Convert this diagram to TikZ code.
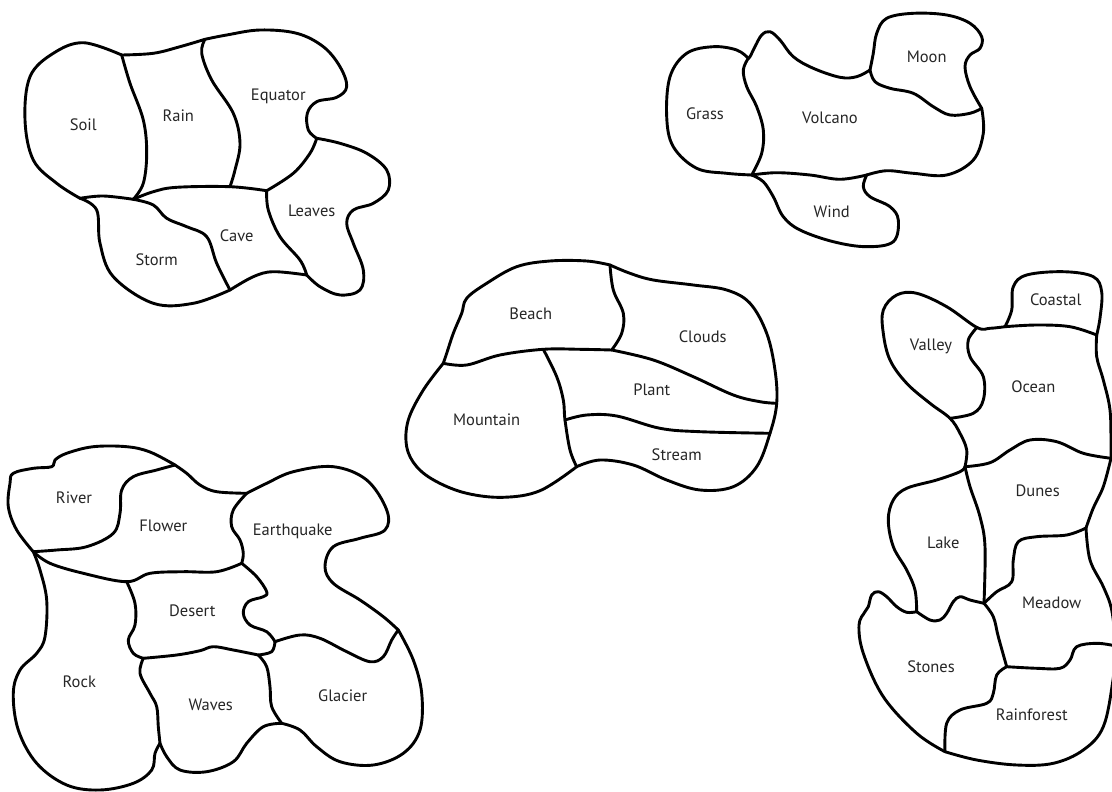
\documentclass[tikz,border=0pt]{standalone}
\usepackage{fontspec}
\setmainfont{PT Sans}
\begin{document}
\begin{tikzpicture}[x=1pt,y=-1pt,
  edge/.style={line width=2.9pt, line join=round, line cap=round},
  lbl/.style={font=\fontsize{16.5}{19}\selectfont, text=black!85, inner sep=0pt}]
\useasboundingbox (0,0) rectangle (1112,792);
\clip (0,0) rectangle (1112,792);
\fill[white] (0,0) rectangle (1112,792);
\newcommand{\crv}[1]{\draw[edge] plot[smooth, tension=0.6] coordinates {#1};}
% ---------------- cluster 1 ----------------
\coordinate (A1) at (121.7,55);
\coordinate (B1) at (205,39.3);
\coordinate (C1) at (316.7,138.3);
\coordinate (D1) at (306.7,275);
\coordinate (E1) at (230,290);
\coordinate (F1) at (80,198.3);
\coordinate (G1) at (133.3,199.3);
\coordinate (H1) at (230,186.7);
\coordinate (I1) at (266.7,190.7);
\crv{(A1) (83.3,42.7) (53.3,53.3) (30,76.7) (25,120) (33.3,160) (56.7,183.3) (F1)}
\crv{(F1) (96.7,210) (100,243.3) (113.3,276.7) (153.3,303.3) (193.3,303.3) (E1)}
\crv{(E1) (253.3,276.7) (273.3,271.7) (D1)}
\crv{(D1) (320,286.7) (340,295) (360,290) (363.3,270) (353.3,243.3) (346.7,223.3) (353.3,210) (373.3,203.3) (388.3,190) (386.7,170) (366.7,153.3) (340,143.3) (C1)}
\crv{(C1) (308.3,130) (307.3,113.3) (316.7,101.7) (336.7,97.3) (346.7,86.7) (340,66.7) (323.3,46.7) (296.7,33.3) (260,30) (226.7,35) (B1)}
\crv{(B1) (180,46.7) (153.3,53.3) (A1)}
\crv{(A1) (130,83.3) (143.3,120) (146.7,153.3) (143.3,183.3) (G1)}
\crv{(F1) (103.3,196) (G1)}
\crv{(G1) (153.3,191.7) (176.7,187.3) (H1) (I1)}
\crv{(B1) (201.7,53.3) (211.7,80) (233.3,113.3) (240,143.3) (235,170) (H1)}
\crv{(C1) (310,153.3) (293.3,173.3) (I1)}
\crv{(I1) (268.3,210) (280,236.7) (300,260) (D1)}
\crv{(G1) (153.3,205) (166.7,218.3) (186.7,226.7) (206.7,236.7) (216.7,263.3) (E1)}
\node[lbl] (soil) at (83.3,125) {Soil};
\node[lbl] (rain) at (178.3,116) {Rain};
\node[lbl] (equator) at (278.3,96.7) {Equator};
\node[lbl] (leaves) at (311.7,211) {Leaves};
\node[lbl] (cave) at (236.7,235.3) {Cave};
\node[lbl] (storm) at (156.7,259.3) {Storm};
% ---------------- cluster 2 ----------------
\coordinate (A2) at (748.3,58.3);
\coordinate (B2) at (751.7,175);
\coordinate (C2) at (866.7,175);
\coordinate (D2) at (981.7,108.3);
\coordinate (E2) at (870,70);
\crv{(A2) (736.7,50) (713.3,46.7) (686.7,53.3) (670,76.7) (666.7,116.7) (673.3,146.7) (696.7,168.3) (726.7,173.3) (B2)}
\crv{(B2) (763.3,181.7) (773.3,196.7) (783.3,216.7) (800,230) (833.3,241.7) (866.7,246.7) (893.3,241.7) (898.3,220) (890,206.7) (870,196.7) (863.3,186.7) (C2)}
\crv{(C2) (886.7,170.7) (913.3,173.3) (946.7,175) (973.3,160) (983.3,133.3) (D2)}
\crv{(D2) (970,86.7) (965,66.7) (970,55) (980,48.3) (981.7,36.7) (970,23.3) (946.7,15) (913.3,13.3) (886.7,18.3) (876.7,33.3) (873.3,53.3) (E2)}
\crv{(E2) (856.7,76.7) (840,77.3) (813.3,68.3) (793.3,56.7) (780,40) (770,31.7) (761.7,35) (755,46.7) (750,56.7) (A2)}
\crv{(A2) (743.3,70) (746.7,86.7) (756.7,106.7) (763.3,130) (761.7,153.3) (B2)}
\crv{(B2) (776.7,172.7) (810,175) (840,179.3) (C2)}
\crv{(E2) (875,81.7) (890,88.3) (913.3,93.3) (933.3,106.7) (950,115) (970,113.3) (D2)}
\node[lbl] (grass) at (705,113.3) {Grass};
\node[lbl] (volcano) at (830,118.3) {Volcano};
\node[lbl] (moon) at (926.7,56.7) {Moon};
\node[lbl] (wind) at (831.7,211.7) {Wind};
% ---------------- cluster 3 ----------------
\coordinate (A3) at (610,265);
\coordinate (B3) at (443.3,363.3);
\coordinate (C3) at (576.7,466.7);
\coordinate (D3) at (770,433.3);
\coordinate (E3) at (776.7,403.3);
\coordinate (F3) at (611.7,350);
\coordinate (G3) at (543.3,349.3);
\coordinate (H3) at (565,420);
\crv{(A3) (586.7,261) (550,261) (516.7,266.7) (486.7,283.3) (466.7,298.3) (461.7,313.3) (453.3,333.3) (446.7,353.3) (B3)}
\crv{(B3) (423.3,390) (408.3,420) (406.7,446.7) (416.7,466.7) (436.7,481.7) (466.7,493.3) (503.3,497.3) (540,490.7) (C3)}
\crv{(C3) (600,460) (633.3,465) (666.7,480) (700,490) (733.3,486.7) (756.7,466.7) (D3) (E3) (775,370) (766.7,333.3) (750,303.3) (726.7,290) (693.3,285) (653.3,280) (630,273.3) (A3)}
\crv{(A3) (613.3,290) (623.3,313.3) (621.7,333.3) (F3)}
\crv{(B3) (466.7,365) (500,355) (G3) (580,349.3) (F3)}
\crv{(F3) (653.3,360) (693.3,376.7) (733.3,395) (760,401.7) (E3)}
\crv{(G3) (556.7,376.7) (563.3,400) (H3) (570,450) (C3)}
\crv{(H3) (586.7,415) (616.7,416) (660,428.3) (700,431.7) (D3)}
\node[lbl] (beach) at (530.7,313.3) {Beach};
\node[lbl] (clouds) at (702.7,336.7) {Clouds};
\node[lbl] (plant) at (651.7,390) {Plant};
\node[lbl] (mountain) at (486.7,419.3) {Mountain};
\node[lbl] (stream) at (676.7,455) {Stream};
% ---------------- cluster 4 ----------------
\coordinate (A4) at (33.3,551.7);
\coordinate (B4) at (175,465);
\coordinate (C4) at (246.7,493.3);
\coordinate (D4) at (398.3,630);
\coordinate (E4) at (281.7,723.3);
\coordinate (F4) at (160,743.3);
\coordinate (G4) at (126.7,581.7);
\coordinate (H4) at (241.7,563.3);
\coordinate (I4) at (275,641.7);
\coordinate (J4) at (258.3,655);
\coordinate (K4) at (143.3,658.3);
\crv{(A4) (16.7,530) (8.3,506.7) (10,483.3) (13.3,473.3) (33.3,468.3) (51.7,466.7) (55,460) (66.7,453.3) (93.3,446.7) (126.7,446.7) (150,452) (B4)}
\crv{(B4) (186.7,473.3) (200,485) (216.7,491.7) (C4)}
\crv{(C4) (266.7,483.3) (293.3,471.7) (333.3,466.7) (366.7,480) (386.7,510) (385,530) (360,538.3) (333.3,546.7) (325,566.7) (333.3,583.3) (360,600) (383.3,616.7) (D4)}
\crv{(D4) (413.3,660) (421.7,693.3) (420,730) (403.3,753.3) (373.3,765) (340,761.7) (316.7,746.7) (300,730) (E4)}
\crv{(E4) (263.3,726.7) (246.7,743.3) (233.3,761.7) (206.7,771.7) (180,770) (166.7,756.7) (F4)}
\crv{(F4) (155,753.3) (151.7,770) (133.3,783.3) (100,790) (66.7,785) (36.7,763.3) (18.3,730) (13.3,693.3) (20,670) (36.7,653.3) (45,636.7) (46.7,600) (40,570) (A4)}
\crv{(B4) (156.7,470) (133.3,476.7) (121.7,490) (120,513.3) (113.3,533.3) (86.7,546.7) (56.7,550) (A4)}
\crv{(A4) (50,563.3) (83.3,573.3) (G4) (150,573.3) (183.3,571.7) (216.7,571.7) (H4)}
\crv{(C4) (233.3,510) (231.7,526.7) (240,540) (243.3,553.3) (H4)}
\crv{(H4) (256.7,576.7) (266.7,591.7) (263.3,596.7) (248.3,601.7) (243.3,613.3) (250,625) (266.7,631.7) (I4)}
\crv{(I4) (271.7,651.7) (J4)}
\crv{(I4) (300,635) (320,638.3) (346.7,651.7) (370,661.7) (383.3,656.7) (391.7,640) (D4)}
\crv{(G4) (135,603.3) (135,625) (128.3,640) (133.3,653.3) (K4)}
\crv{(K4) (176.7,655) (200,650.7) (213.3,646.7) (233.3,650) (J4)}
\crv{(K4) (140,673.3) (150,693.3) (156.7,706.7) (158.3,726.7) (F4)}
\crv{(J4) (266.7,666.7) (270,686.7) (271.7,706.7) (E4)}
\node[lbl] (river) at (74,497.3) {River};
\node[lbl] (flower) at (163.3,526) {Flower};
\node[lbl] (earthquake) at (292.7,531.7) {Earthquake};
\node[lbl] (desert) at (192.3,610.7) {Desert};
\node[lbl] (rock) at (79.3,681.3) {Rock};
\node[lbl] (waves) at (210.7,705) {Waves};
\node[lbl] (glacier) at (342.7,695.7) {Glacier};
% ---------------- cluster 5 ----------------
\coordinate (A5) at (1005,326.7);
\coordinate (V5) at (977,327.5);
\coordinate (B5) at (1096.7,335);
\coordinate (C5) at (1111,458.3);
\coordinate (D5) at (1086,528);
\coordinate (E5) at (1116,646);
\coordinate (F5) at (945,751.7);
\coordinate (G5) at (916.7,611.7);
\coordinate (H5) at (984,603.3);
\coordinate (I5) at (965,466.7);
\coordinate (W5) at (950,418.3);
\coordinate (K5) at (1006.7,666.7);
\crv{(A5) (1011.7,310) (1013.3,286.7) (1026.7,275) (1063.3,271.7) (1093.3,276.7) (1101.7,292) (1100,318) (B5)}
\crv{(B5) (1096.7,356.7) (1103.3,380) (1110,410) (1111,446.7) (C5)}
\crv{(C5) (1103.3,486.7) (1093.3,508) (D5)}
\crv{(D5) (1090,560) (1103.3,586.7) (1111.7,610) (E5)}
\crv{(E5) (1113,680) (1103.3,726.7) (1083.3,750) (1053.3,763.3) (1016.7,765) (976.7,760) (F5)}
\crv{(F5) (916.7,733.3) (883.3,696.7) (863.3,653.3) (859,625) (865,611.7) (868.3,606.7) (871.7,595) (878.3,591.7) (886.7,596.7) (896.7,606.7) (906.7,612.3) (G5)}
\crv{(G5) (915,590) (906.7,570) (893.3,546.7) (888.3,520) (893.3,500) (906.7,488.3) (936.7,480) (960,471.7) (I5)}
\crv{(I5) (966.7,450) (960,433.3) (W5) (930,403.3) (906.7,383.3) (890,360) (883.3,333.3) (883.3,310) (896.7,295) (916.7,293.3) (946.7,306.7) (V5) (990,328.3) (A5)}
\crv{(A5) (1036.7,325) (1070,326.7) (B5)}
\crv{(V5) (968.3,340) (970,356.7) (983.3,376.7) (983.3,400) (973.3,413.3) (W5)}
\crv{(I5) (990,462.7) (1010,450) (1030,440) (1056.7,441.7) (1083.3,453.3) (C5)}
\crv{(I5) (970,486.7) (980,516.7) (985,546.7) (H5)}
\crv{(G5) (930,620) (940,620) (946.7,613.3) (953.3,601.7) (960,596.7) (970,600) (H5)}
\crv{(H5) (996.7,591.7) (1011.7,581.7) (1013.3,560) (1018.3,541.7) (1036.7,536.7) (1066.7,535) (D5)}
\crv{(H5) (993.3,616.7) (998.3,636.7) (K5)}
\crv{(K5) (1036.7,668.3) (1060,668.3) (1070,660) (1076.7,646.7) (1096.7,643.3) (E5)}
\crv{(K5) (996.7,675) (993.3,693.3) (986.7,703.3) (960,710) (946.7,723.3) (F5)}
\node[lbl] (coastal) at (1055.7,300) {Coastal};
\node[lbl] (valley) at (931,346) {Valley};
\node[lbl] (ocean) at (1033.3,386.7) {Ocean};
\node[lbl] (dunes) at (1037.7,491) {Dunes};
\node[lbl] (lake) at (943.3,542.7) {Lake};
\node[lbl] (meadow) at (1051.7,602.7) {Meadow};
\node[lbl] (stones) at (931,666.7) {Stones};
\node[lbl] (rainforest) at (1031.7,715) {Rainforest};
\end{tikzpicture}
\end{document}
